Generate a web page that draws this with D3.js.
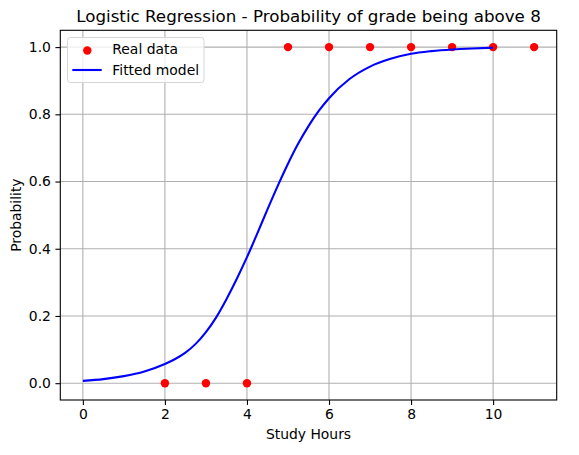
<!DOCTYPE html>
<html>
<head>
<meta charset="utf-8">
<script src="https://cdn.jsdelivr.net/npm/d3@7"></script>
<style>
  html, body { margin: 0; padding: 0; background: #fff; }
  svg { display: block; font-family: "DejaVu Sans", sans-serif; }
</style>
</head>
<body>
<svg id="chart" width="579" height="455"></svg>
<script>
// ---- data ----
const dataHours = [2, 3, 4, 5, 6, 7, 8, 9, 10, 11];
const dataLabel = [0, 0, 0, 1, 1, 1, 1, 1, 1, 1];

const curveHours = [0, 0.5, 1, 1.5, 2, 2.25, 2.5, 2.75, 3, 3.25, 3.5, 3.75, 4, 4.25, 4.5, 4.75, 5, 5.25, 5.5, 5.75, 6, 6.5, 7, 7.5, 8, 8.5, 9, 9.5, 10];
const curveProb  = [0.007, 0.012, 0.021, 0.035, 0.057, 0.072, 0.091, 0.117, 0.152, 0.196, 0.25, 0.31, 0.375, 0.445, 0.517, 0.587, 0.653, 0.713, 0.765, 0.81, 0.848, 0.905, 0.942, 0.965, 0.980, 0.988, 0.993, 0.996, 0.998];

const xTicks = [0, 2, 4, 6, 8, 10];
const yTicks = [0.0, 0.2, 0.4, 0.6, 0.8, 1.0];

const titleText = "Logistic Regression - Probability of grade being above 8";
const xLabelText = "Study Hours";
const yLabelText = "Probability";
const legendLabels = ["Real data", "Fitted model"];

// ---- layout ----
const svg = d3.select("#chart");
const L = 60.3, R = 556.7, T = 30.3, B = 400;

const x = d3.scaleLinear().domain([-0.55, 11.55]).range([L, R]);
const y = d3.scaleLinear().domain([-0.05, 1.05]).range([B, T]);

// grid
const grid = svg.append("g");
grid.selectAll("line.gx").data(xTicks).enter().append("line")
  .attr("x1", d => x(d)).attr("x2", d => x(d))
  .attr("y1", T).attr("y2", B)
  .attr("stroke", "#b0b0b0").attr("stroke-width", 1.1);
grid.selectAll("line.gy").data(yTicks).enter().append("line")
  .attr("x1", L).attr("x2", R)
  .attr("y1", d => y(d)).attr("y2", d => y(d))
  .attr("stroke", "#b0b0b0").attr("stroke-width", 1.1);

// axes
const xAxis = d3.axisBottom(x).tickValues(xTicks).tickSize(4.9).tickPadding(4.5).tickFormat(d3.format("d"));
const yAxis = d3.axisLeft(y).tickValues(yTicks).tickSize(4.9).tickPadding(4.5).tickFormat(d3.format(".1f"));

const gx = svg.append("g").attr("transform", `translate(0,${B})`).call(xAxis);
const gy = svg.append("g").attr("transform", `translate(${L},0)`).call(yAxis);
[gx, gy].forEach(g => {
  g.select(".domain").remove();
  g.selectAll(".tick line").attr("stroke", "#000").attr("stroke-width", 1.1);
  g.selectAll(".tick text").attr("fill", "#000").style("font-size", "13.9px")
    .style("font-family", "'DejaVu Sans', sans-serif");
});

// scatter (plotted first)
svg.append("g").selectAll("circle").data(dataHours).enter().append("circle")
  .attr("cx", d => x(d))
  .attr("cy", (d, i) => y(dataLabel[i]))
  .attr("r", 4.2)
  .attr("fill", "#ff0000");

// fitted curve
const line = d3.line().x(d => x(d[0])).y(d => y(d[1])).curve(d3.curveMonotoneX);
svg.append("path")
  .datum(curveHours.map((h, i) => [h, curveProb[i]]))
  .attr("d", line)
  .attr("fill", "none")
  .attr("stroke", "#0000ff")
  .attr("stroke-width", 2.1);

// spines
svg.append("rect")
  .attr("x", L).attr("y", T).attr("width", R - L).attr("height", B - T)
  .attr("fill", "none").attr("stroke", "#000").attr("stroke-width", 1.1);

// title & labels
svg.append("text")
  .attr("x", (L + R) / 2).attr("y", 21.5)
  .attr("text-anchor", "middle")
  .style("font-size", "16.7px")
  .attr("fill", "#000")
  .text(titleText);

svg.append("text")
  .attr("x", (L + R) / 2).attr("y", 438.5)
  .attr("text-anchor", "middle")
  .style("font-size", "13.9px")
  .attr("fill", "#000")
  .text(xLabelText);

svg.append("text")
  .attr("transform", `translate(20.5,${(T + B) / 2}) rotate(-90)`)
  .attr("text-anchor", "middle")
  .style("font-size", "13.9px")
  .attr("fill", "#000")
  .text(yLabelText);

// legend
const lg = svg.append("g");
lg.append("rect")
  .attr("x", 67.5).attr("y", 37.5).attr("width", 136.5).attr("height", 45)
  .attr("rx", 3).attr("ry", 3)
  .attr("fill", "#fff").attr("fill-opacity", 0.8)
  .attr("stroke", "#d6d6d6").attr("stroke-width", 1);
lg.append("circle").attr("cx", 87.3).attr("cy", 50.5).attr("r", 4.2).attr("fill", "#ff0000");
lg.append("line").attr("x1", 72.3).attr("x2", 101.7).attr("y1", 70).attr("y2", 70)
  .attr("stroke", "#0000ff").attr("stroke-width", 2.1);
lg.selectAll("text.lt").data(legendLabels).enter().append("text")
  .attr("x", 112.3)
  .attr("y", (d, i) => i === 0 ? 54.3 : 74.5)
  .style("font-size", "13.9px")
  .attr("fill", "#000")
  .text(d => d);
</script>
</body>
</html>
